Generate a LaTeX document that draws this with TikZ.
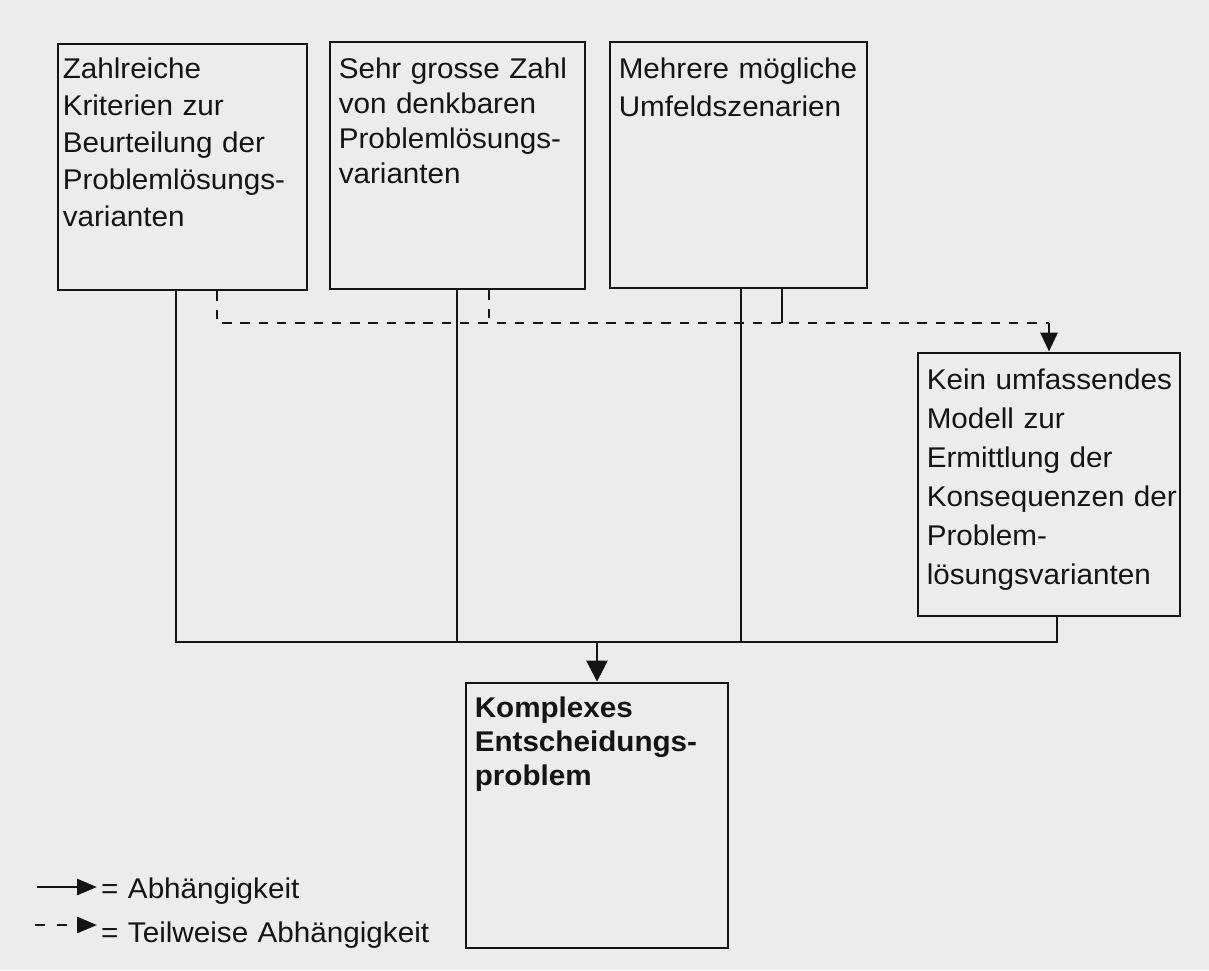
\documentclass[tikz,border=0pt]{standalone}
\usepackage{fontspec}
\setmainfont{Liberation Sans}[FakeStretch=1.04]
\usetikzlibrary{arrows.meta,calc}
\definecolor{paper}{RGB}{236,236,236}
\definecolor{ink}{RGB}{20,20,20}
\begin{document}
\begin{tikzpicture}[x=1pt,y=-1pt,
  box/.style={draw=ink, line width=2.9pt, inner sep=0pt},
  lbl/.style={anchor=base west, inner sep=0pt, text=ink, text width=400pt,
    align=left, font=\fontsize{28.5pt}{#1}\selectfont},
  lbl/.default=37pt,
  dep/.style={draw=ink, line width=2.9pt},
  part/.style={dep, dash pattern=on 9.5pt off 8.8pt},
  bigtip/.style={-{Triangle[length=21pt,width=21pt]}},
  smalltip/.style={-{Triangle[length=19pt,width=17pt]}},
  legtip/.style={-{Triangle[length=20pt,width=16pt]}}]

\useasboundingbox (0,0) rectangle (1209,970);
\fill[paper] (0,0) rectangle (1209,970);

% boxes
\node[box, minimum width=249pt, minimum height=246pt] (b1) at (182.5,167) {};
\node[box, minimum width=255pt, minimum height=247pt] (b2) at (457.5,165.5) {};
\node[box, minimum width=257pt, minimum height=246pt] (b3) at (738.5,165) {};
\node[box, minimum width=262pt, minimum height=263pt] (b4) at (1049,484.5) {};
\node[box, minimum width=262pt, minimum height=265pt] (b5) at (597,815.5) {};

% box texts
\node[lbl=37pt] (t1) at ($(b1.north west)+(6,36)$)
  {Zahlreiche\\Kriterien zur\\Beurteilung der\\Problemlösungs-\\varianten};
\node[lbl=35pt] (t2) at ($(b2.north west)+(10,38)$)
  {Sehr grosse Zahl\\von denkbaren\\Problemlösungs-\\varianten};
\node[lbl=38pt] (t3) at ($(b3.north west)+(10,38)$)
  {Mehrere mögliche\\Umfeldszenarien};
\node[lbl=39pt] (t4) at ($(b4.north west)+(10,38)$)
  {Kein umfassendes\\Modell zur\\Ermittlung der\\Konsequenzen der\\Problem-\\lösungsvarianten};
\node[lbl=34pt, font=\fontsize{28.5pt}{34pt}\selectfont\bfseries] (t5) at ($(b5.north west)+(10,36)$)
  {Komplexes\\Entscheidungs-\\problem};

% junction points
\coordinate (s1) at (176,642);
\coordinate (s2) at (457,642);
\coordinate (s3) at (741,642);
\coordinate (s4) at (1057,642);
\coordinate (sm) at (597,642);
\coordinate (d1) at (217,323);
\coordinate (d2) at (489,323);
\coordinate (d3) at (782,323);
\coordinate (d4) at (1049,323);

% full dependencies
\draw[dep] (b1.south -| s1) -- (s1) -- (s4) -- (b4.south -| s4);
\draw[dep] (b2.south -| s2) -- (s2);
\draw[dep] (b3.south -| s3) -- (s3);
\draw[dep, bigtip] (sm) -- (b5.north);

% partial dependencies
\draw[part] (b1.south -| d1) -- (d1) -- (d4);
\draw[part] (b2.south -| d2) -- (d2);
\draw[dep] (b3.south -| d3) -- (d3);
\draw[part, smalltip] (d4) -- (b4.north);

% legend
\coordinate (a1s) at (37,887);
\coordinate (a1e) at (97,887);
\coordinate (a2s) at (35,925);
\coordinate (a2e) at (97,925);
\draw[dep, legtip] (a1s) -- (a1e);
\draw[dep, dash pattern=on 10pt off 12pt, legtip] (a2s) -- (a2e);
\node[lbl] (leg1) at (101,898) {= Abhängigkeit};
\node[lbl] (leg2) at (101,942) {= Teilweise Abhängigkeit};
\end{tikzpicture}
\end{document}
